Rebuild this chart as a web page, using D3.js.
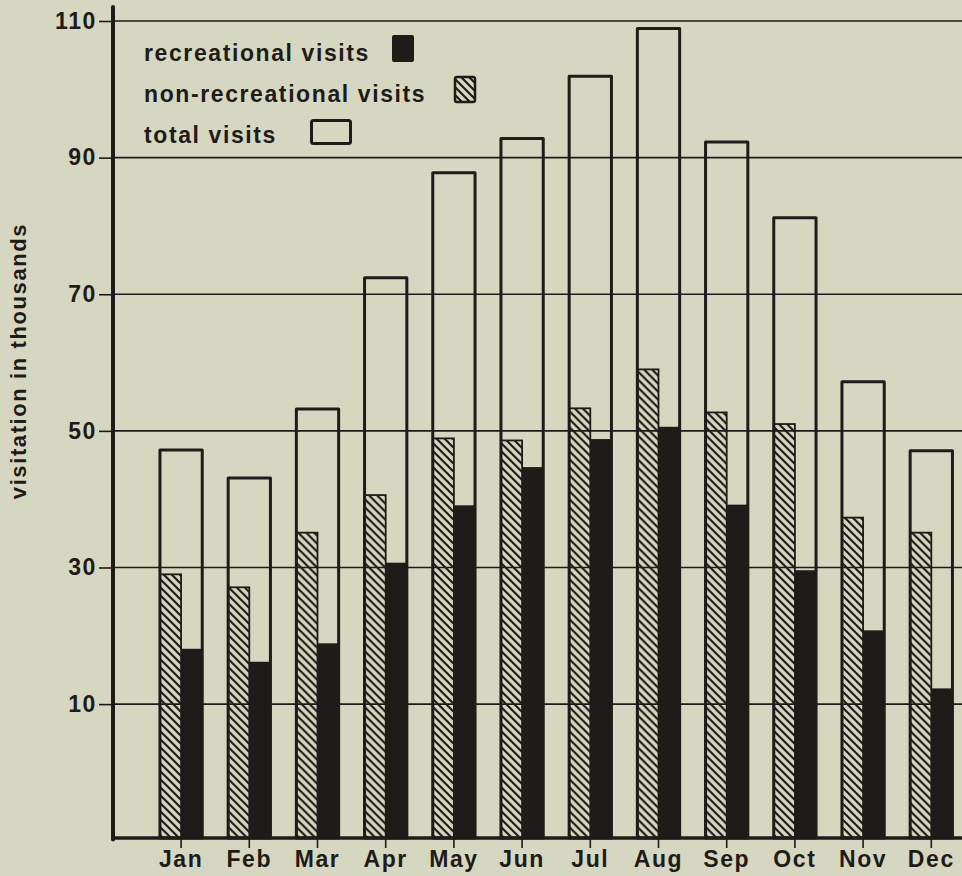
<!DOCTYPE html>
<html>
<head>
<meta charset="utf-8">
<script src="https://cdn.jsdelivr.net/npm/d3@7"></script>
<style>
body { margin: 0; background: #d6d7c1; }
svg text { font-family: "Liberation Sans", Arial, sans-serif; font-weight: bold; fill: #1f1b18; letter-spacing: 1.6px; }
</style>
</head>
<body>
<script>
var width = 962, height = 876;
var ink = '#1f1b18';

// data (thousands)
var months = ['Jan','Feb','Mar','Apr','May','Jun','Jul','Aug','Sep','Oct','Nov','Dec'];
var totalVisits = [47.2, 43.1, 53.2, 72.4, 87.8, 92.8, 101.9, 108.9, 92.3, 81.2, 57.2, 47.1];
var nonRecVisits = [29.0, 27.1, 35.1, 40.6, 48.9, 48.6, 53.3, 59.0, 52.7, 51.0, 37.3, 35.1];
var recVisits = [18.1, 16.2, 18.9, 30.7, 39.1, 44.7, 48.8, 50.6, 39.2, 29.6, 20.8, 12.3];
var yTicks = [10, 30, 50, 70, 90, 110];
var legendLabels = ['recreational visits', 'non-recreational visits', 'total visits'];

var rows = months.map(function(m, i) {
  return {month: m, total: totalVisits[i], nonrec: nonRecVisits[i], rec: recVisits[i]};
});

var svg = d3.select('body').append('svg').attr('width', width).attr('height', height);

// hatch for non-recreational
svg.append('defs').append('pattern')
  .attr('id', 'hatch').attr('patternUnits', 'userSpaceOnUse')
  .attr('width', 8).attr('height', 8)
  .append('path')
  .attr('d', 'M-1,-1 L9,9 M-1,7 L1,9 M7,-1 L9,1')
  .attr('stroke', ink).attr('stroke-width', 2.2);

var axisX = 113, baseY = 838;

// the baseline sits below zero in the original
var y = d3.scaleLinear().domain([-9.6, 110]).range([baseY, 21]);
var x = d3.scaleBand().domain(months).range([147, 965.4]);
var barW = x.bandwidth() * 0.62;

// gridlines
svg.append('g').selectAll('line').data(yTicks).join('line')
  .attr('x1', axisX).attr('x2', width)
  .attr('y1', function(d) { return y(d); }).attr('y2', function(d) { return y(d); })
  .attr('stroke', ink).attr('stroke-width', 1.6);

// y axis ticks + labels
var yAxis = svg.append('g').attr('transform', 'translate(' + axisX + ',0)')
  .call(d3.axisLeft(y).tickValues(yTicks).tickSize(14).tickPadding(2));
yAxis.select('.domain').remove();
yAxis.selectAll('line').attr('stroke', ink).attr('stroke-width', 1.6);
yAxis.selectAll('text').style('font-size', '23px').attr('fill', ink);

// bars
var g = svg.append('g').selectAll('g').data(rows).join('g')
  .attr('transform', function(d) { return 'translate(' + (x(d.month) + x.bandwidth() / 2) + ',0)'; });

g.append('rect')
  .attr('x', -barW / 2).attr('width', barW / 2)
  .attr('y', function(d) { return y(d.nonrec); })
  .attr('height', function(d) { return baseY - y(d.nonrec); })
  .attr('fill', 'url(#hatch)').attr('stroke', ink).attr('stroke-width', 1.8);

g.append('rect')
  .attr('x', 0).attr('width', barW / 2)
  .attr('y', function(d) { return y(d.rec); })
  .attr('height', function(d) { return baseY - y(d.rec); })
  .attr('fill', ink);

g.append('rect')
  .attr('x', -barW / 2).attr('width', barW)
  .attr('y', function(d) { return y(d.total); })
  .attr('height', function(d) { return baseY - y(d.total); })
  .attr('fill', 'none').attr('stroke', ink).attr('stroke-width', 3)
  .attr('stroke-linejoin', 'round');

// x axis
var xAxis = svg.append('g').attr('transform', 'translate(0,' + baseY + ')')
  .call(d3.axisBottom(x).tickSize(10).tickPadding(3));
xAxis.select('.domain').remove();
xAxis.selectAll('line').attr('stroke', ink).attr('stroke-width', 1.6);
xAxis.selectAll('text').style('font-size', '23px').attr('fill', ink);

// frame lines
svg.append('line').attr('x1', axisX - 1.5).attr('x2', width).attr('y1', baseY).attr('y2', baseY)
  .attr('stroke', ink).attr('stroke-width', 3.5);
svg.append('line').attr('x1', axisX).attr('x2', axisX).attr('y1', 7).attr('y2', baseY + 1.5)
  .attr('stroke', ink).attr('stroke-width', 4).attr('stroke-linecap', 'round');

// y title
svg.append('text')
  .attr('transform', 'translate(26,361) rotate(-90)')
  .attr('text-anchor', 'middle')
  .style('font-size', '22px')
  .text('visitation in thousands');

// legend
var leg = svg.append('g');
leg.selectAll('text').data(legendLabels).join('text')
  .attr('x', 144).attr('y', function(d, i) { return 61 + i * 41; })
  .style('font-size', '23px')
  .text(function(d) { return d; });
leg.append('rect').attr('x', 392).attr('y', 35).attr('width', 22).attr('height', 27)
  .attr('rx', 2).attr('fill', ink);
leg.append('rect').attr('x', 455).attr('y', 77).attr('width', 20).attr('height', 25)
  .attr('rx', 2).attr('fill', 'url(#hatch)').attr('stroke', ink).attr('stroke-width', 2.5);
leg.append('rect').attr('x', 311.5).attr('y', 120.5).attr('width', 39).attr('height', 23)
  .attr('rx', 2).attr('fill', 'none').attr('stroke', ink).attr('stroke-width', 3);
</script>
</body>
</html>
